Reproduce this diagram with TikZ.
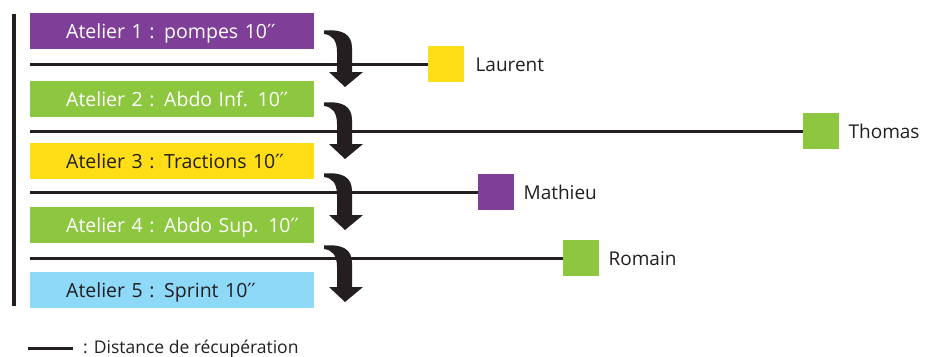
\documentclass[tikz,border=0pt]{standalone}
\usepackage{fontspec}
\setmainfont{Open Sans}
\newfontfamily\primefont{DejaVu Sans}
\definecolor{cpurple}{RGB}{127,63,152}
\definecolor{cgreen}{RGB}{141,198,63}
\definecolor{cyellow}{RGB}{255,221,23}
\definecolor{cblue}{RGB}{142,216,248}
\definecolor{cdark}{RGB}{35,31,32}
\tikzset{
  atelier/.style={anchor=north west, minimum width=284pt, minimum height=36pt, inner sep=0pt,
    text width=284pt, align=left, text height=15pt, text depth=0pt, font=\fontsize{19.5}{22}\selectfont},
  sq/.style={anchor=north west, minimum size=36pt, inner sep=0pt},
  personlbl/.style={anchor=west, inner sep=0pt, text=cdark, text height=15pt, text depth=0pt, font=\fontsize{19}{22}\selectfont},
  recup/.style={draw=cdark, line width=3pt},
  pics/hookarrow/.style={code={
    \fill[cdark] (0,0.5) .. controls (18,-1) and (28,4) .. (28,18) -- (28,42) -- (39,42) -- (21,57)
      -- (5,42) -- (13,42) -- (13,22) .. controls (13,10) and (8,5) .. (0,4) -- cycle;
  }}
}
\newcommand{\dprime}{{\primefont\char"2032\kern-0.5pt\char"2032}}
\begin{document}
\begin{tikzpicture}[x=1pt,y=-1pt]
\useasboundingbox (0,0) rectangle (942,356);
% vertical bar
\coordinate (vt) at (14,14);
\coordinate (vb) at (14,306);
\draw[cdark, line width=4pt] (vt) -- (vb);
% boxes
\node[atelier, fill=cpurple, text=white] (b1) at (30,13) {\hspace*{36pt}Atelier 1 : pompes 10\dprime};
\node[atelier, fill=cgreen, text=white] (b2) at (30,81) {\hspace*{36pt}Atelier 2 : Abdo Inf. 10\dprime};
\node[atelier, fill=cyellow, text=cdark] (b3) at (30,143) {\hspace*{36pt}Atelier 3 : Tractions 10\dprime};
\node[atelier, fill=cgreen, text=white] (b4) at (30,207) {\hspace*{36pt}Atelier 4 : Abdo Sup. 10\dprime};
\node[atelier, fill=cblue, text=cdark] (b5) at (30,272) {\hspace*{36pt}Atelier 5 : Sprint 10\dprime};
% line starts
\coordinate (l1) at (30,64);
\coordinate (l2) at (30,131);
\coordinate (l3) at (30,192);
\coordinate (l4) at (30,258);
% squares
\node[sq, fill=cyellow] (s1) at (428,46) {};
\node[sq, fill=cgreen] (s2) at (803,113) {};
\node[sq, fill=cpurple] (s3) at (478,174) {};
\node[sq, fill=cgreen] (s4) at (563,240) {};
\draw[recup] (l1) -- (l1 -| s1.west);
\draw[recup] (l2) -- (l2 -| s2.west);
\draw[recup] (l3) -- (l3 -| s3.west);
\draw[recup] (l4) -- (l4 -| s4.west);
% names
\node[personlbl] (n1) at ([xshift=11pt]s1.east) {Laurent};
\node[personlbl] (n2) at ([xshift=9pt]s2.east) {Thomas};
\node[personlbl] (n3) at ([xshift=9pt]s3.east) {Mathieu};
\node[personlbl] (n4) at ([xshift=9pt]s4.east) {Romain};
% arrows
\pic at (324,30) {hookarrow};
\pic at (324,102) {hookarrow};
\pic at (324,173) {hookarrow};
\pic at (324,245) {hookarrow};
% legend
\coordinate (ga) at (28,348);
\coordinate (gb) at (73,348);
\draw[cdark, line width=3pt] (ga) -- (gb);
\node[anchor=west, inner sep=0pt, text=cdark, text height=13pt, text depth=0pt, font=\fontsize{17.5}{20}\selectfont] (leg) at (83,346.5) {: Distance de récupération};
\end{tikzpicture}
\end{document}
